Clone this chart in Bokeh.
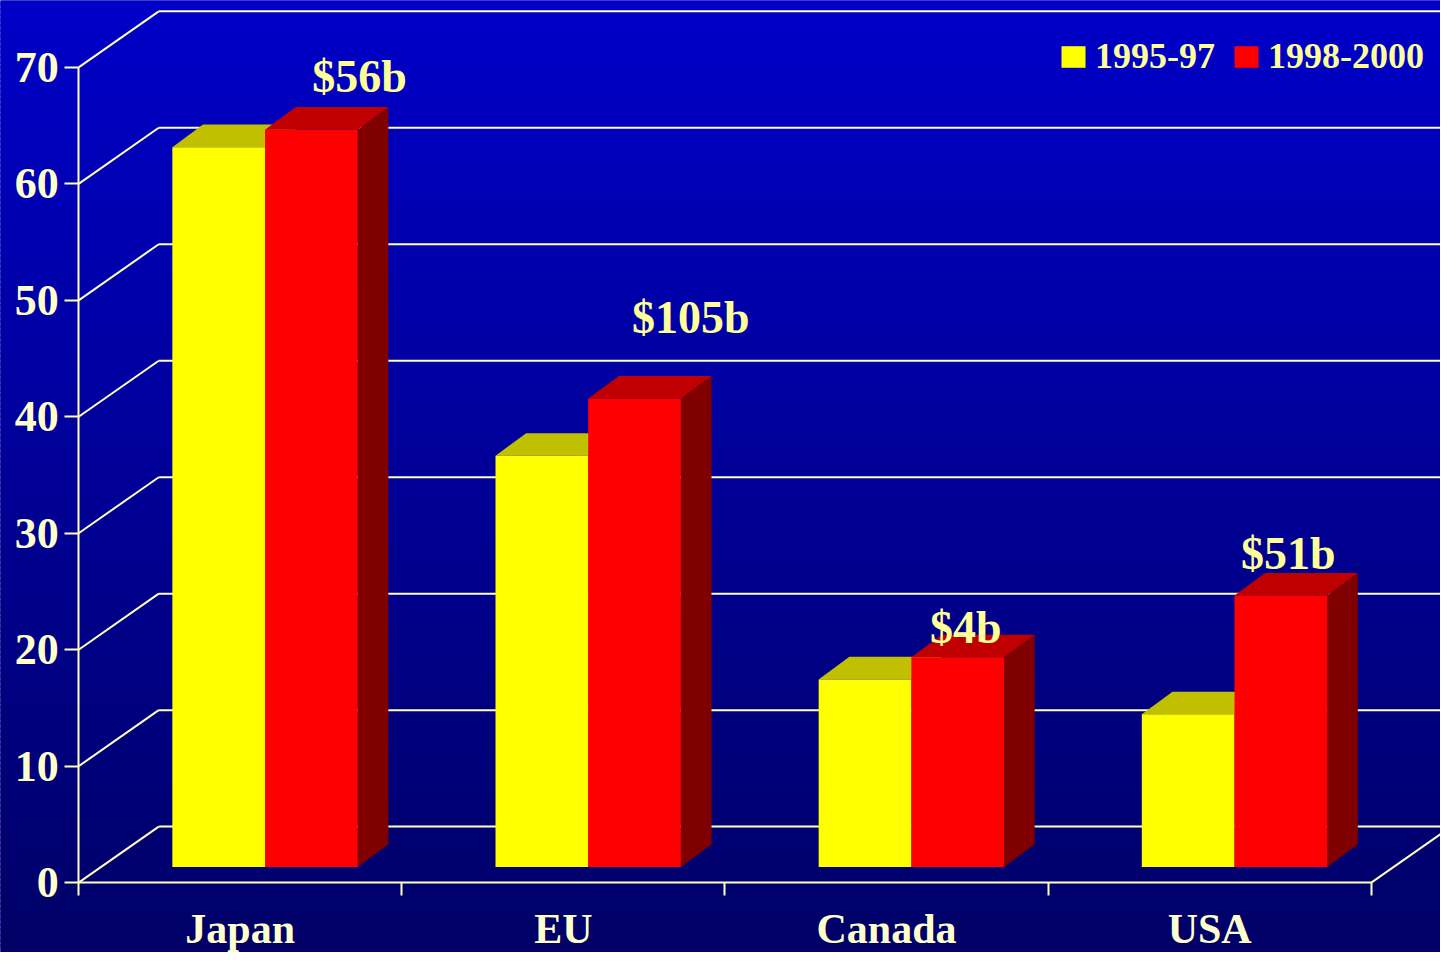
import numpy as np
from bokeh.plotting import figure
from bokeh.models import (Range1d, FixedTicker, LinearAxis, Legend, LegendItem,
                          ColumnDataSource)
from bokeh.core.properties import value
from bokeh.embed import file_html
from bokeh.resources import INLINE

# ---------------- data ----------------
categories = ["Japan", "EU", "Canada", "USA"]
series_names = ["1995-97", "1998-2000"]
values_1995_97 = [61.8, 35.3, 16.1, 13.1]
values_1998_2000 = [63.3, 40.2, 18.0, 23.3]
y_ticks = [0, 10, 20, 30, 40, 50, 60, 70]
totals = ["$56b", "$105b", "$4b", "$51b"]

# ---------------- layout / style ----------------
W, H = 1440, 952
REF_W, REF_H = 1456, 968          # design size the geometry is measured in
PX_X = 326.75          # design pixels per category
PX_Y = 11.843          # design pixels per unit
ORIGIN_X, ORIGIN_Y = 79, 897      # design position of (0, 0)

x0 = -ORIGIN_X / PX_X
x1 = (REF_W - ORIGIN_X) / PX_X
y0 = -(REF_H - ORIGIN_Y) / PX_Y
y1 = ORIGIN_Y / PX_Y

WALL_DX = 81 / PX_X     # depth of the back wall
WALL_DY = 57 / PX_Y
BAR_FY = 16 / PX_Y      # bar front plane lift
BAR_DX = 31 / PX_X      # bar depth
BAR_DY = 23 / PX_Y
BAR_W = 93.7 / PX_X
BAR_OFF = 0.290         # yellow bar left within category

LINE = "#FFFFC0"
TICK_TXT = "#FFFFCC"
ANN_TXT = "#FFFF99"
FONT = "Liberation Serif"

# label placement (x within category, baseline y)
label_dx = [0.869, 0.894, 0.745, 0.743]
label_y = [69.24, 48.55, 21.87, 28.29]

p = figure(width=W, height=H, x_range=Range1d(x0, x1), y_range=Range1d(y0, y1),
           output_backend="svg", toolbar_location=None, min_border=0,
           x_axis_type=None, y_axis_type=None)
p.outline_line_color = None
p.background_fill_color = "#000066"
p.border_fill_color = "#000066"

# ---- gradient background ----
N = 180
edges = np.linspace(y0, y1, N + 1)
t = (np.arange(N) + 0.5) / N
blue_bottom, blue_top = 102, 200
cols = ["#0000%02x" % int(round(blue_bottom + (blue_top - blue_bottom) * tt)) for tt in t]
band = (edges[1] - edges[0]) * 0.6
p.quad(left=x0 - 1, right=x1 + 1, bottom=edges[:-1], top=edges[1:] + band,
       fill_color=cols, line_color=None)

# ---- walls / grid ----
yt = np.array(y_ticks, dtype=float)
p.segment(x0=np.zeros_like(yt), y0=yt, x1=np.full_like(yt, WALL_DX), y1=yt + WALL_DY,
          line_color=LINE, line_width=2)
p.segment(x0=np.full_like(yt, WALL_DX), y0=yt + WALL_DY, x1=np.full_like(yt, x1 + 1),
          y1=yt + WALL_DY, line_color=LINE, line_width=2)
n_cat = len(categories)
p.segment(x0=[n_cat], y0=[0], x1=[n_cat + WALL_DX * 2], y1=[WALL_DY * 2],
          line_color=LINE, line_width=2)

# ---- bars ----
cat_idx = np.arange(n_cat, dtype=float)
yl = cat_idx + BAR_OFF
yr = yl + BAR_W
rl = yr
rr = rl + BAR_W
base = BAR_FY


def faces(left, right, vals):
    xs_t, ys_t, xs_s, ys_s = [], [], [], []
    for l, r, v in zip(left, right, vals):
        top = base + v
        xs_t.append([l, r, r + BAR_DX, l + BAR_DX])
        ys_t.append([top, top, top + BAR_DY, top + BAR_DY])
        xs_s.append([r, r + BAR_DX, r + BAR_DX, r])
        ys_s.append([base, base + BAR_DY, top + BAR_DY, top])
    return xs_t, ys_t, xs_s, ys_s


vy = np.array(values_1995_97)
vr = np.array(values_1998_2000)

xt, ytp, xs, ys = faces(yl, yr, vy)
p.patches(xs, ys, fill_color="#808000", line_color=None)
p.patches(xt, ytp, fill_color="#C0C000", line_color=None)
r_y = p.quad(left=yl, right=yr, bottom=np.full(n_cat, base), top=base + vy,
             fill_color="#FFFF00", line_color=None)

xt, ytp, xs, ys = faces(rl, rr, vr)
p.patches(xs, ys, fill_color="#800000", line_color=None)
p.patches(xt, ytp, fill_color="#C00000", line_color=None)
r_r = p.quad(left=rl, right=rr, bottom=np.full(n_cat, base), top=base + vr,
             fill_color="#FF0000", line_color=None)

# ---- total labels ----
src = ColumnDataSource(dict(x=cat_idx + np.array(label_dx), y=label_y, text=totals))
p.text(x="x", y="y", text="text", source=src, text_font=value(FONT),
       text_font_style="bold", text_font_size="46px", text_color=ANN_TXT,
       text_align="center", text_baseline="alphabetic")

# ---- axes ----
yaxis = LinearAxis(ticker=FixedTicker(ticks=y_ticks), fixed_location=0, bounds=(0, 70))
yaxis.axis_line_color = LINE
yaxis.axis_line_width = 2
yaxis.major_tick_line_color = LINE
yaxis.major_tick_line_width = 2
yaxis.major_tick_out = 14
yaxis.major_tick_in = 0
yaxis.minor_tick_line_color = None
yaxis.major_label_standoff = 6
yaxis.major_label_text_font = FONT
yaxis.major_label_text_font_style = "bold"
yaxis.major_label_text_font_size = "44px"
yaxis.major_label_text_color = TICK_TXT
p.add_layout(yaxis, "left")

centers = [i + 0.5 for i in range(n_cat)]
xaxis = LinearAxis(ticker=FixedTicker(ticks=centers, minor_ticks=list(range(n_cat + 1))),
                   fixed_location=0, bounds=(0, n_cat),
                   major_label_overrides={c: n for c, n in zip(centers, categories)})
xaxis.axis_line_color = LINE
xaxis.axis_line_width = 2
xaxis.major_tick_line_color = None
xaxis.major_tick_out = 0
xaxis.major_tick_in = 0
xaxis.minor_tick_line_color = LINE
xaxis.minor_tick_line_width = 2
xaxis.minor_tick_out = 13
xaxis.minor_tick_in = 0
xaxis.major_label_standoff = 10
xaxis.major_label_text_font = FONT
xaxis.major_label_text_font_style = "bold"
xaxis.major_label_text_font_size = "42px"
xaxis.major_label_text_color = TICK_TXT
p.add_layout(xaxis, "below")

# ---- legend ----
legend = Legend(items=[LegendItem(label=series_names[0], renderers=[r_y]),
                       LegendItem(label=series_names[1], renderers=[r_r])],
                orientation="horizontal", location=(1058, 875))
legend.background_fill_alpha = 0
legend.border_line_color = None
legend.padding = 0
legend.margin = 0
legend.spacing = 16
legend.glyph_width = 30
legend.glyph_height = 27
legend.label_standoff = 7
legend.label_text_font = FONT
legend.label_text_font_style = "bold"
legend.label_text_font_size = "36px"
legend.label_text_color = ANN_TXT
p.add_layout(legend)

open("out.html", "w").write(file_html(p, INLINE))
